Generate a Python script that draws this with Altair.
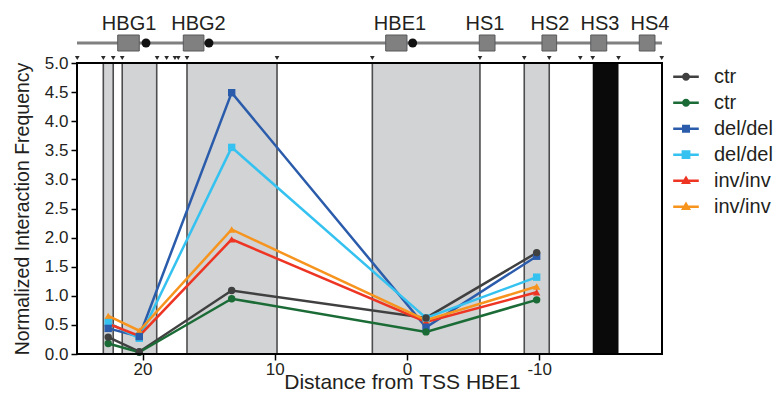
import altair as alt
import pandas as pd

# Capture probe positions (kb from the HBE1 TSS) and normalized interaction frequencies
positions = [22.6, 20.25, 13.26, -1.44, -9.81]
series_names = ["ctr 1", "ctr 2", "del/del 1", "del/del 2", "inv/inv 1", "inv/inv 2"]
series_colors = ["#404041", "#1b6b36", "#2b5cab", "#35c2f0", "#ee3524", "#f7941e"]
series_shapes = ["circle", "circle", "square", "square", "triangle-up", "triangle-up"]
ctr_1 = [0.29, 0.04, 1.09, 0.62, 1.74]
ctr_2 = [0.18, 0.03, 0.95, 0.38, 0.93]
del_1 = [0.44, 0.30, 4.49, 0.46, 1.68]
del_2 = [0.54, 0.27, 3.55, 0.62, 1.32]
inv_1 = [0.52, 0.31, 1.97, 0.55, 1.06]
inv_2 = [0.655, 0.40, 2.14, 0.58, 1.16]
series_values = [ctr_1, ctr_2, del_1, del_2, inv_1, inv_2]

# Restriction fragments (grey), blocked region (black), cut sites
band_start = [22.97, 21.54, 16.64, 2.62, -8.87]
band_end = [22.22, 18.93, 9.83, -5.52, -10.76]
block_start = [-14.05]
block_end = [-16.0]
cut_sites = [24.94, 22.97, 22.22, 21.54, 18.90, 18.18, 17.55, 17.30, 16.64,
             9.83, 2.62, -5.52, -8.87, -10.76, -13.11, -14.05, -16.0, -19.27]

# Locus map above the plot
gene_names = ["HBG1", "HBG2", "HBE1", "HS1", "HS2", "HS3", "HS4"]
gene_start = [21.88, 16.92, 1.61, -5.47, -10.21, -13.90, -17.57]
gene_end = [20.25, 15.36, 0.0, -6.66, -11.32, -15.11, -18.76]
gene_label_pos = [21.02, 15.77, 0.53, -5.9, -10.82, -14.6, -18.38]
promoter_pos = [19.74, 14.98, -0.43]

x_domain = [-19.29, 24.96]
x_ticks = [20, 10, 0, -10]
y_ticks = [0, 0.5, 1.0, 1.5, 2.0, 2.5, 3.0, 3.5, 4.0, 4.5, 5.0]

FONT = "Liberation Sans"
INK = "#231f20"

rows = []
for name, vals in zip(series_names, series_values):
    for p, v in zip(positions, vals):
        rows.append({"series": name, "x": p, "y": v, "order": series_names.index(name)})
df = pd.DataFrame(rows)
df["draw"] = -df["order"]

bands = pd.DataFrame({"x": band_start, "x2": band_end})
block = pd.DataFrame({"x": block_start, "x2": block_end})
edges = pd.DataFrame({"x": band_start + band_end})
sites = pd.DataFrame({"x": cut_sites})
genes = pd.DataFrame({"x": gene_start, "x2": gene_end})
labels = pd.DataFrame({"x": gene_label_pos, "name": gene_names})
promoters = pd.DataFrame({"x": promoter_pos})
frame = pd.DataFrame({"x": [x_domain[1]], "x2": [x_domain[0]]})

x_scale = alt.Scale(domain=x_domain, reverse=True, nice=False, zero=False)
x_axis = alt.Axis(
    values=x_ticks, domain=False, grid=False, tickSize=6, tickWidth=1.5,
    tickColor="black", labelFontSize=17, labelPadding=1, labelColor=INK,
    labelFont=FONT,
    labelExpr="datum.value < 0 ? '-' + abs(datum.value) : '' + datum.value",
    title="Distance from TSS HBE1", titleFontSize=21, titleFontWeight="normal",
    titleFont=FONT, titleColor=INK, titleX=325, titleY=34,
    titleBaseline="alphabetic", zindex=1,
)
y_scale = alt.Scale(domain=[0, 5], nice=False, zero=True)
y_axis = alt.Axis(
    values=y_ticks, format=".1f", domain=False, grid=False, tickSize=6,
    tickWidth=1.5, tickColor="black", labelFontSize=17, labelPadding=3,
    labelColor=INK, labelFont=FONT,
    title="Normalized Interaction Frequency", titleFontSize=19.5,
    titleFontWeight="normal", titleFont=FONT, titleColor=INK,
    titlePadding=12, zindex=1,
)


def xenc(field="x"):
    return alt.X(f"{field}:Q", scale=x_scale, axis=x_axis)


yenc = alt.Y("y:Q", scale=y_scale, axis=y_axis)

color_plain = alt.Color("series:N", scale=alt.Scale(domain=series_names, range=series_colors), legend=None)
shape_plain = alt.Shape("series:N", scale=alt.Scale(domain=series_names, range=series_shapes), legend=None)

# Legend symbols: a short line segment with the series marker on it
seg = "M-3.2,-0.32H3.2V0.32H-3.2Z"
legend_paths = [
    seg + "M1,0A1,1 0 1,1 -1,0A1,1 0 1,1 1,0Z",
    seg + "M1,0A1,1 0 1,1 -1,0A1,1 0 1,1 1,0Z",
    seg + "M-1,-1H1V1H-1Z",
    seg + "M-1.1,-1.1H1.1V1.1H-1.1Z",
    seg + "M0,-1.3L1.25,0.85H-1.25Z",
    seg + "M0,-1.3L1.25,0.85H-1.25Z",
]
legend_def = alt.Legend(
    title=None, orient="none", legendX=599, legendY=3.7, padding=0,
    labelFontSize=20, labelFont=FONT, labelColor=INK, labelOffset=18,
    rowPadding=6, symbolSize=64, symbolStrokeWidth=0,
    labelExpr="split(datum.label, ' ')[0]",
)

band_layer = alt.Chart(bands).mark_rect(color="#d1d3d4").encode(x=xenc(), x2="x2:Q")
block_layer = alt.Chart(block).mark_rect(color="#0a0a0a").encode(x=xenc(), x2="x2:Q")
edge_layer = alt.Chart(edges).mark_rule(color="#4d4d4f", strokeWidth=1.6).encode(x=xenc())

line_layer = alt.Chart(df).mark_line(strokeWidth=2.5).encode(
    x=xenc(), y=yenc, color=color_plain, detail="series:N", order="x:Q"
)
point_layer = alt.Chart(df).mark_point(filled=True, opacity=1, size=55).encode(
    x=xenc(), y=yenc, color=color_plain, shape=shape_plain, order="draw:Q"
)
legend_layer = alt.Chart(df).transform_filter("false").mark_point(filled=True, opacity=1).encode(
    x=xenc(), y=yenc,
    color=alt.Color("series:N", scale=alt.Scale(domain=series_names, range=series_colors), legend=legend_def),
    shape=alt.Shape("series:N", scale=alt.Scale(domain=series_names, range=legend_paths), legend=legend_def),
)

frame_layer = alt.Chart(frame).mark_rect(fill="transparent", stroke="black", strokeWidth=2).encode(
    x=xenc(), x2="x2:Q"
)
site_layer = alt.Chart(sites).mark_point(shape="triangle-down", filled=True, opacity=1, size=22, color="#2b2b2b").encode(
    x=xenc(), y=alt.value(-5)
)
track_layer = alt.Chart(frame).mark_rule(color="#808080", strokeWidth=3).encode(
    x=xenc(), x2="x2:Q", y=alt.value(-20)
)
gene_layer = alt.Chart(genes).mark_rect(color="#808080", stroke="#58595b", strokeWidth=1).encode(
    x=xenc(), x2="x2:Q", y=alt.value(-28), y2=alt.value(-12)
)
promoter_layer = alt.Chart(promoters).mark_point(shape="circle", filled=True, opacity=1, size=80, color="#111111").encode(
    x=xenc(), y=alt.value(-20)
)
label_layer = alt.Chart(labels).mark_text(
    font=FONT, fontSize=20, color=INK, baseline="alphabetic", align="center"
).encode(x=xenc(), y=alt.value(-33), text="name:N")

chart = alt.layer(
    band_layer, block_layer, edge_layer, line_layer, point_layer, legend_layer,
    frame_layer, site_layer, track_layer, gene_layer, promoter_layer, label_layer,
).resolve_scale(
    color="independent", shape="independent"
).properties(
    width=585, height=291,
    autosize=alt.AutoSizeParams(type="none"),
    padding={"left": 77, "top": 63, "right": 111, "bottom": 45},
).configure_view(stroke=None).configure(background="white")

chart.save("out.html", embed_options={"renderer": "svg", "actions": False})
